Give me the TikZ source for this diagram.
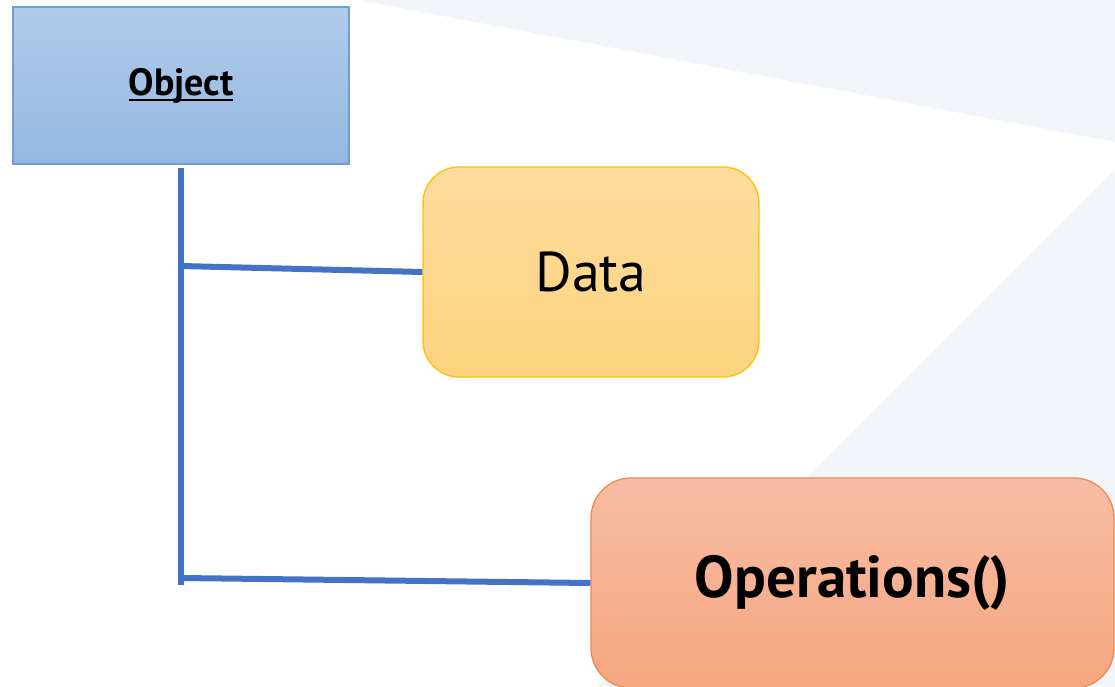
\documentclass[tikz,border=0pt]{standalone}
\usepackage{fontspec}
\setmainfont{PT Sans}
\definecolor{bggray}{HTML}{F1F4F8}
\definecolor{objtop}{HTML}{B1CBE9}
\definecolor{objbot}{HTML}{94B7E2}
\definecolor{objline}{HTML}{6C9FD6}
\definecolor{datatop}{HTML}{FEDC9D}
\definecolor{databot}{HTML}{FDD37E}
\definecolor{dataline}{HTML}{FFC000}
\definecolor{opstop}{HTML}{F7BDA4}
\definecolor{opsbot}{HTML}{F6A680}
\definecolor{opsline}{HTML}{EE8A4E}
\definecolor{conn}{HTML}{4472C4}
\newcommand\myul[1]{\setbox0\hbox{#1}\rlap{\rule[-6pt]{\wd0}{2.6pt}}\box0}
\tikzset{
  objbox/.style={rectangle, draw=objline, line width=1.3pt, top color=objtop, bottom color=objbot,
    minimum width=336pt, minimum height=157pt, inner sep=0pt},
  databox/.style={rectangle, rounded corners=36pt, draw=dataline, line width=1.3pt, top color=datatop, bottom color=databot,
    minimum width=336pt, minimum height=210pt, inner sep=0pt},
  opsbox/.style={rectangle, rounded corners=40pt, draw=opsline, line width=1.3pt, top color=opstop, bottom color=opsbot,
    minimum width=523pt, minimum height=210pt, inner sep=0pt},
  connline/.style={draw=conn, line width=6pt}
}
\begin{document}
\begin{tikzpicture}[x=1pt, y=-1pt]
\useasboundingbox (0,0) rectangle (1115,687);
\fill[white] (0,0) rectangle (1115,687);
\fill[bggray] (358,0) -- (1115,0) -- (1115,142) -- cycle;
\fill[bggray] (1115,170) -- (1115,687) -- (598,687) -- cycle;

\node[objbox] (obj) at (181,85.5) {\fontsize{38}{42}\selectfont\bfseries\myul{Object}};
\node[databox] (data) at (591,272) {\fontsize{56}{60}\selectfont Data};
\node[opsbox] (ops) at (852.5,583) {\fontsize{59}{64}\selectfont\bfseries Operations()};

\coordinate (vtop) at (181,168);
\coordinate (vbot) at (181,585);
\coordinate (j1) at (181,266);
\coordinate (j2) at (181,578);

\draw[connline] (vtop) -- (vbot);
\draw[connline] (j1) -- (data.west);
\draw[connline] (j2) -- (ops.west);
\end{tikzpicture}
\end{document}
